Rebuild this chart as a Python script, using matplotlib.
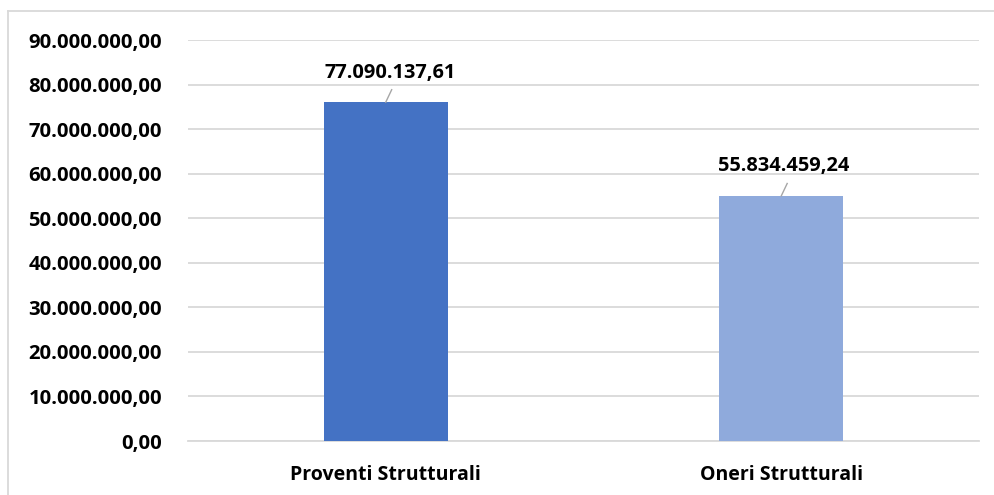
import matplotlib
matplotlib.use("Agg")
import matplotlib.pyplot as plt
from matplotlib.lines import Line2D

categories = ["Proventi Strutturali", "Oneri Strutturali"]
values = [76.1e6, 55.04e6]
value_labels = ["77.090.137,61", "55.834.459,24"]
bar_colors = ["#4472C4", "#8FAADC"]
yticks = [i * 10e6 for i in range(10)]

def fmt(v):
    s = f"{v:,.2f}"
    return s.replace(",", "X").replace(".", ",").replace("X", ".")

W, H = 994, 495
fig = plt.figure(figsize=(W / 100, H / 100), dpi=100)
font = "Open Sans"
fs = 14
ax = fig.add_axes([188 / W, (H - 441) / H, (979 - 188) / W, (441 - 40.3) / H])

x = list(range(len(categories)))
ax.bar(x, values, width=0.313, color=bar_colors, zorder=3)
ax.set_xlim(-0.5, len(categories) - 0.5)
ax.set_ylim(0, 90e6)
ax.set_yticks(yticks)
ax.set_yticklabels([fmt(v) for v in yticks], fontsize=14.6, fontweight="bold", family=font)
ax.set_xticks(x)
ax.set_xticklabels(categories, fontsize=fs, fontweight="bold", family=font)
ax.tick_params(axis="both", length=0, colors="black")
ax.tick_params(axis="y", pad=18.7)
ax.tick_params(axis="x", pad=17)
ax.grid(axis="y", color="#d9d9d9", linewidth=1.3, zorder=0)
for s in ["top", "right", "left"]:
    ax.spines[s].set_visible(False)
ax.spines["bottom"].set_color("#d9d9d9")
ax.spines["bottom"].set_linewidth(1.3)

# data labels with leader lines
for i, (v, lab) in enumerate(zip(values, value_labels)):
    ly = v + [6.6e6, 6.8e6][i]
    lx = i + [0.01, 0.005][i]
    ax.text(lx, ly, lab, ha="center", va="center", fontsize=14.4, fontweight="bold",
            family=font, zorder=4)
    ax.plot([i, i + 0.015], [v, v + 2.8e6], color="#a6a6a6", linewidth=1.0, zorder=4,
            clip_on=False)

# chart area border
fig.add_artist(Line2D([7.5 / W, 1.0], [1 - 11 / H, 1 - 11 / H], color="#d9d9d9", linewidth=1.3,
                      transform=fig.transFigure))
fig.add_artist(Line2D([7.5 / W, 7.5 / W], [0, 1 - 11 / H], color="#d9d9d9", linewidth=1.3,
                      transform=fig.transFigure))

fig.savefig("out.png", dpi=100)
